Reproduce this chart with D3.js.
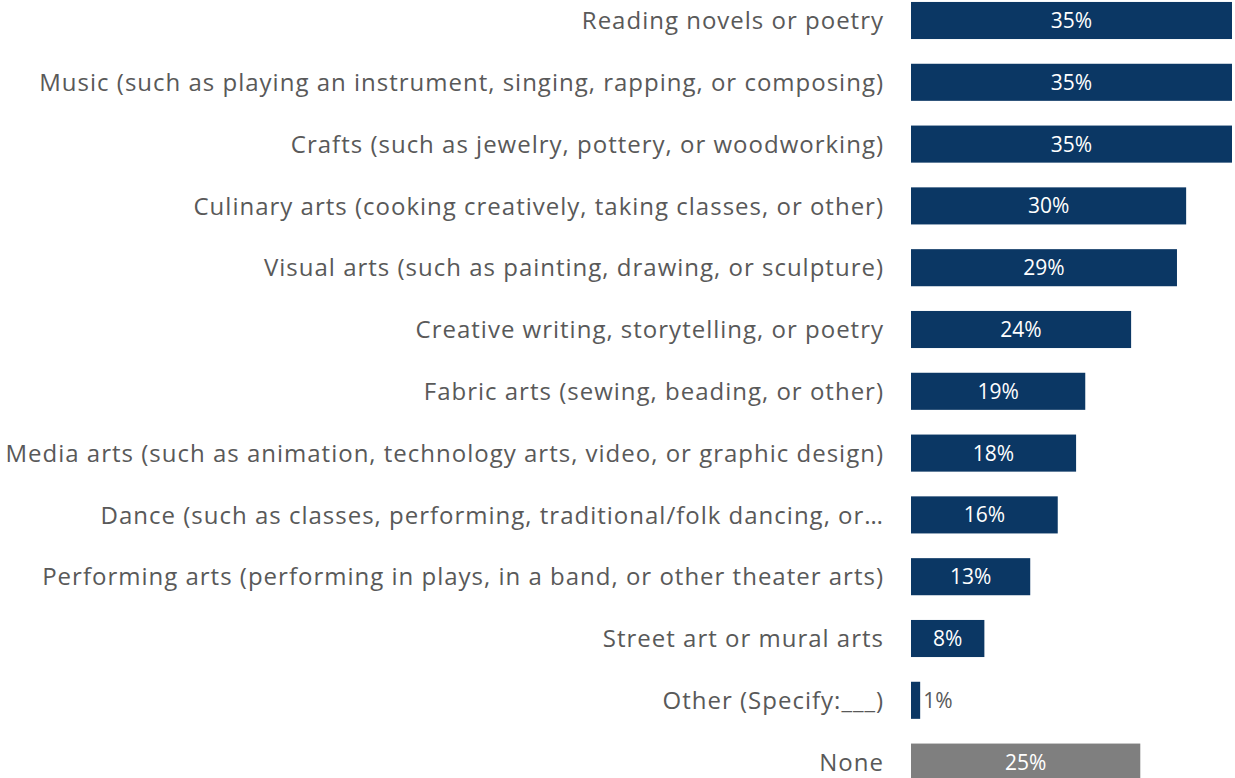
<!DOCTYPE html>
<html>
<head>
<meta charset="utf-8">
<script src="https://cdn.jsdelivr.net/npm/d3@7"></script>
<style>
  html, body { margin: 0; padding: 0; background: #ffffff; }
  svg { display: block; }
</style>
</head>
<body>
<svg id="chart" width="1235" height="778"></svg>
<script>
// Creative activities and share of respondents taking part
const categories = [
  "Reading novels or poetry",
  "Music (such as playing an instrument, singing, rapping, or composing)",
  "Crafts (such as jewelry, pottery, or woodworking)",
  "Culinary arts (cooking creatively, taking classes, or other)",
  "Visual arts (such as painting, drawing, or sculpture)",
  "Creative writing, storytelling, or poetry",
  "Fabric arts (sewing, beading, or other)",
  "Media arts (such as animation, technology arts, video, or graphic design)",
  "Dance (such as classes, performing, traditional/folk dancing, or\u2026",
  "Performing arts (performing in plays, in a band, or other theater arts)",
  "Street art or mural arts",
  "Other (Specify:___)",
  "None"
];
const values = [35, 35, 35, 30, 29, 24, 19, 18, 16, 13, 8, 1, 25];
const valueLabels = ["35%", "35%", "35%", "30%", "29%", "24%", "19%", "18%", "16%", "13%", "8%", "1%", "25%"];

const NAVY = "#0b3764";
const GREY = "#7f7f7f";
const TEXT = "#595959";
const FONT = "'Open Sans', 'Noto Sans', sans-serif";

const svg = d3.select("#chart");

const x = d3.scaleLinear().domain([0, 35]).range([911, 1232]);
const y = d3.scaleBand()
  .domain(categories)
  .range([-10.4, 793])
  .paddingInner(0.4)
  .paddingOuter(0.2);

const rows = categories.map((c, i) => ({ cat: c, value: values[i], label: valueLabels[i], none: c === "None" }));

// bars
svg.append("g").selectAll("rect")
  .data(rows)
  .join("rect")
  .attr("x", x(0))
  .attr("y", d => y(d.cat))
  .attr("width", d => x(d.value) - x(0))
  .attr("height", y.bandwidth())
  .attr("fill", d => d.none ? GREY : NAVY);

// category labels
const axis = d3.axisLeft(y).tickSize(0).tickPadding(27);
const gAxis = svg.append("g")
  .attr("transform", `translate(${x(0)},0)`)
  .call(axis);
gAxis.select(".domain").remove();
gAxis.selectAll("text")
  .attr("fill", TEXT)
  .attr("dy", "0.36em")
  .style("font-family", FONT)
  .style("font-size", "24px")
  .style("letter-spacing", "1px");

// value labels: inside for wide bars, outside for narrow ones
const inside = d => (x(d.value) - x(0)) > 40;
svg.append("g").selectAll("text")
  .data(rows)
  .join("text")
  .attr("x", d => inside(d) ? (x(0) + x(d.value)) / 2 : x(d.value) + 3)
  .attr("y", d => y(d.cat) + y.bandwidth() / 2)
  .attr("dy", "0.36em")
  .attr("text-anchor", d => inside(d) ? "middle" : "start")
  .attr("fill", d => inside(d) ? "#ffffff" : TEXT)
  .style("font-family", FONT)
  .style("font-size", "21px")
  .text(d => d.label);
</script>
</body>
</html>
